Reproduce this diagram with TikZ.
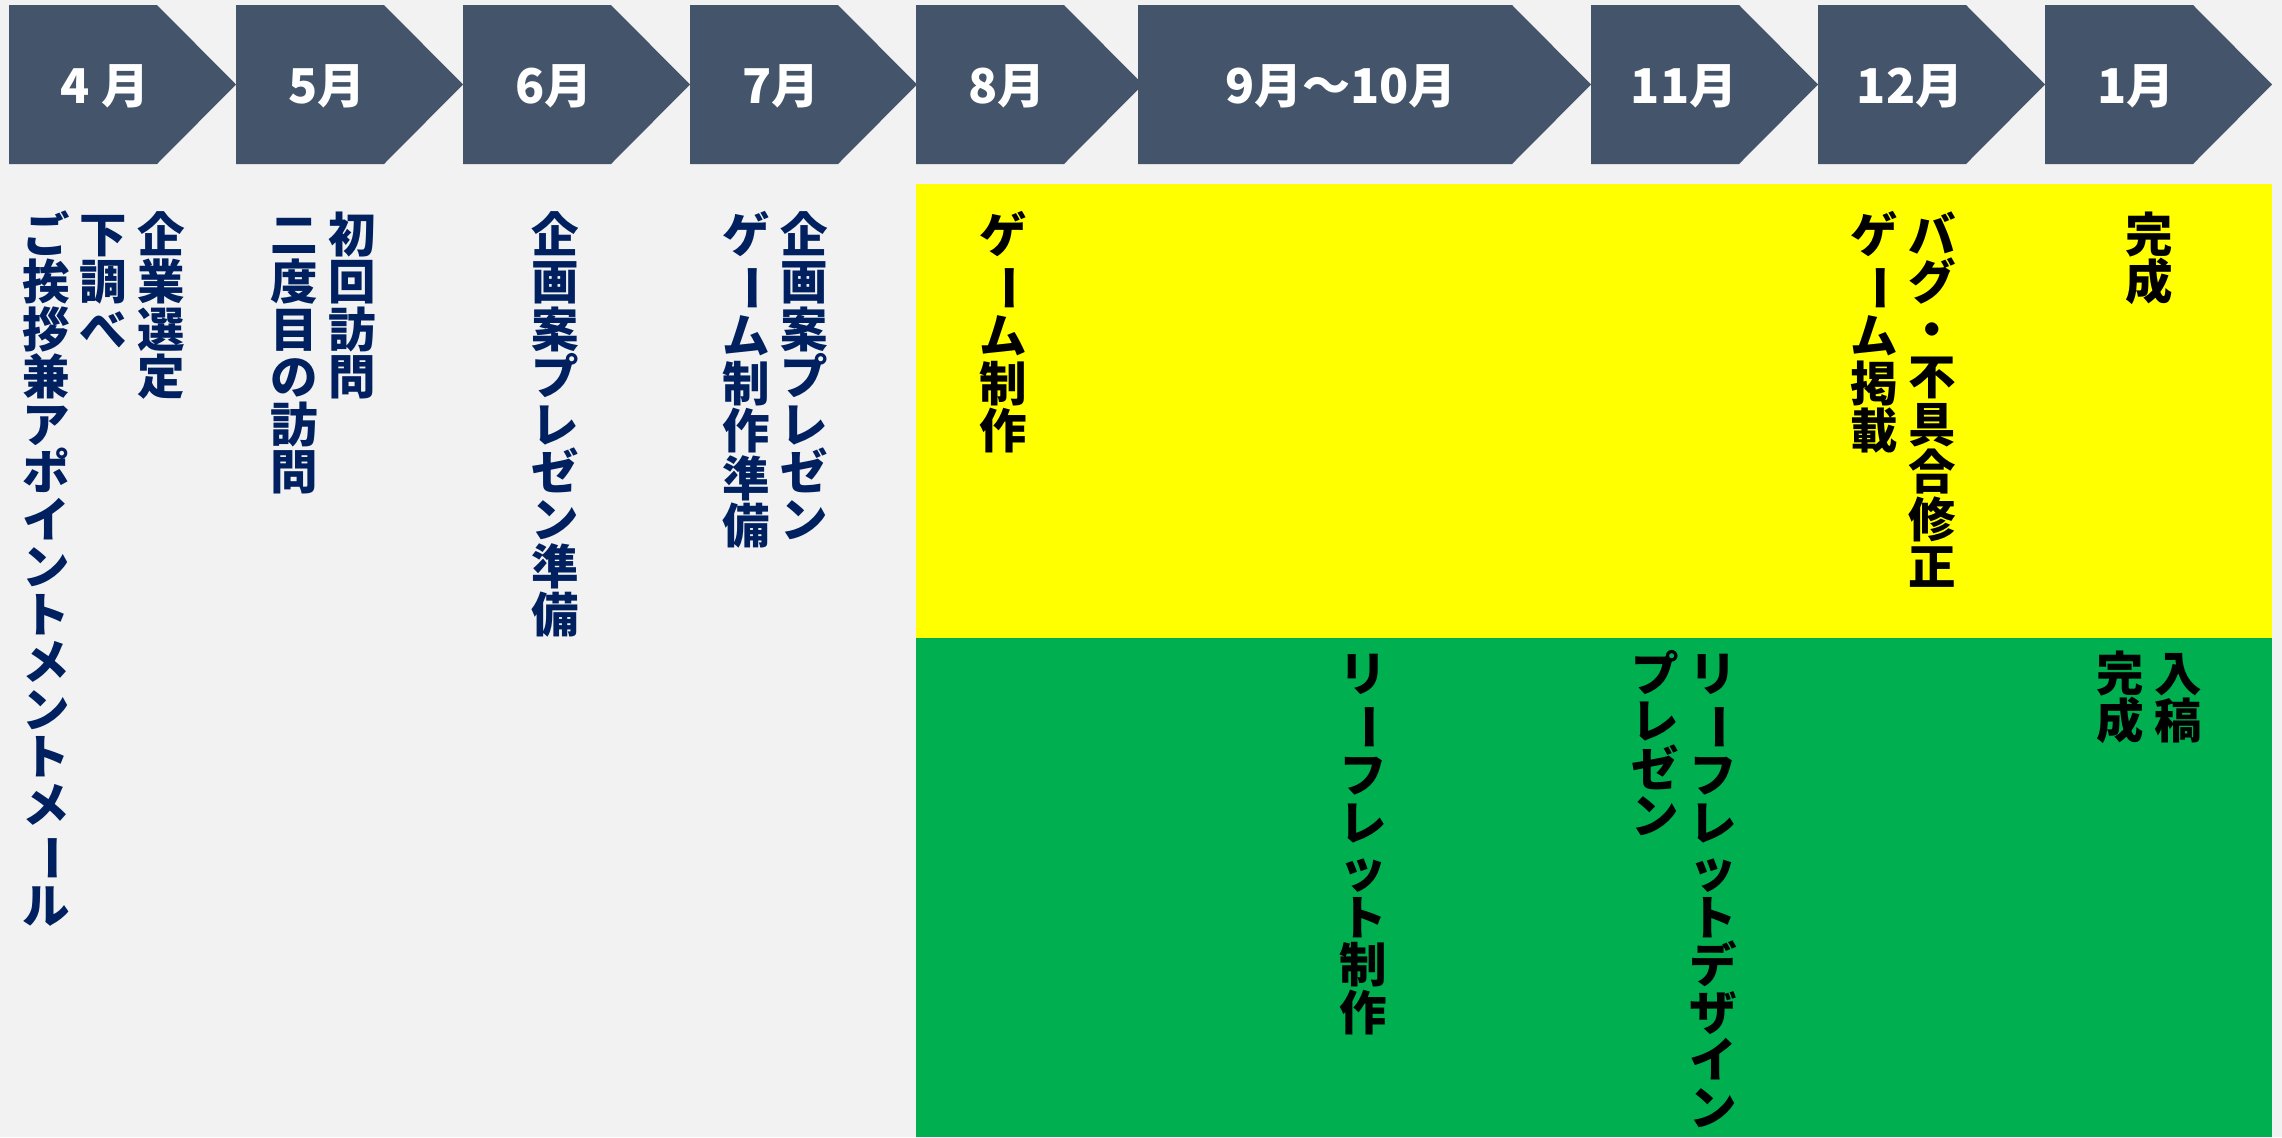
\documentclass[tikz,border=0pt]{standalone}
\usepackage{fontspec}
\setmainfont{Noto Sans CJK JP}
\usepackage{graphicx}
\definecolor{hdrblue}{HTML}{44546A}
\definecolor{navy}{HTML}{002060}
\definecolor{paper}{HTML}{F2F2F2}
\definecolor{gameyellow}{HTML}{FFFF00}
\definecolor{leafgreen}{HTML}{00B050}

% vertical text, one glyph per line, the long vowel mark turned upright
\newcommand\tateglyph[1]{\ifx ー#1\rotatebox[origin=c]{-90}{ー}\else #1\fi}
\newcommand\tatechar[1]{\ifx\relax#1\else\hbox to 1em{\hss\vrule height .88em depth .12em width 0pt\tateglyph{#1}\hss}\expandafter\tatechar\fi}
\newcommand\tate[1]{\vtop{\offinterlineskip\tatechar#1\relax}}

\begin{document}
\begin{tikzpicture}[x=0.5pt,y=-0.5pt,
   chevron/.style={fill=hdrblue},
   month/.style={text=white,inner sep=0,font=\fontsize{24pt}{24pt}\selectfont\bfseries},
   plan/.style={text=navy,inner sep=0,anchor=north,font=\fontsize{23.75pt}{23.75pt}\selectfont\bfseries},
   task/.style={text=black,inner sep=0,anchor=north,font=\fontsize{23.75pt}{23.75pt}\selectfont\bfseries}]
   \useasboundingbox (0,0) rectangle (2282,1137);
   \fill[paper] (0,0) rectangle (2282,1137);
   % month arrows
   \fill[chevron] (9,5) -- (157,5) -- (236,84.5) -- (157,164) -- (9,164) -- cycle;
   \fill[chevron] (236,5) -- (384,5) -- (463,84.5) -- (384,164) -- (236,164) -- cycle;
   \fill[chevron] (463,5) -- (611,5) -- (690,84.5) -- (611,164) -- (463,164) -- cycle;
   \fill[chevron] (690,5) -- (838,5) -- (917,84.5) -- (838,164) -- (690,164) -- cycle;
   \fill[chevron] (916,5) -- (1064,5) -- (1143,84.5) -- (1064,164) -- (916,164) -- cycle;
   \fill[chevron] (1138,5) -- (1512,5) -- (1591,84.5) -- (1512,164) -- (1138,164) -- cycle;
   \fill[chevron] (1591,5) -- (1739,5) -- (1818,84.5) -- (1739,164) -- (1591,164) -- cycle;
   \fill[chevron] (1818,5) -- (1966,5) -- (2045,84.5) -- (1966,164) -- (1818,164) -- cycle;
   \fill[chevron] (2045,5) -- (2193,5) -- (2272,84.5) -- (2193,164) -- (2045,164) -- cycle;
   \node[month] (m4) at (105,86) {4 月};
   \node[month] (m5) at (327,86) {5月};
   \node[month] (m6) at (554,86) {6月};
   \node[month] (m7) at (781,86) {7月};
   \node[month] (m8) at (1007,86) {8月};
   \node[month] (m9) at (1341,86) {9月〜10月};
   \node[month] (m11) at (1684,86) {11月};
   \node[month] (m12) at (1910,86) {12月};
   \node[month] (m1) at (2136,86) {1月};
   % game and leaflet bands
   \fill[gameyellow] (916,184) rectangle (2272,638);
   \fill[leafgreen] (916,638) rectangle (2272,1137);
   % preparation
   \node[plan] (p4a) at (161,210) {\tate{企業選定}};
   \node[plan] (p4b) at (103,210) {\tate{下調べ}};
   \node[plan] (p4c) at (46,210) {\tate{ご挨拶兼アポイントメントメール}};
   \node[plan] (p5a) at (352,210) {\tate{初回訪問}};
   \node[plan] (p5b) at (294,210) {\tate{二度目の訪問}};
   \node[plan] (p6) at (555,210) {\tate{企画案プレゼン準備}};
   \node[plan] (p7a) at (804,210) {\tate{企画案プレゼン}};
   \node[plan] (p7b) at (746,210) {\tate{ゲーム制作準備}};
   % game
   \node[task] (g8) at (1003,210) {\tate{ゲーム制作}};
   \node[task] (g12a) at (1932,210) {\tate{バグ・不具合修正}};
   \node[task] (g12b) at (1874,210) {\tate{ゲーム掲載}};
   \node[task] (g1) at (2149,210) {\tate{完成}};
   % leaflet
   \node[task] (l9) at (1363,649) {\tate{リーフレット制作}};
   \node[task] (l11a) at (1713,649) {\tate{リーフレットデザイン}};
   \node[task] (l11b) at (1655,649) {\tate{プレゼン}};
   \node[task] (l1a) at (2178,649) {\tate{入稿}};
   \node[task] (l1b) at (2120,649) {\tate{完成}};
\end{tikzpicture}
\end{document}
